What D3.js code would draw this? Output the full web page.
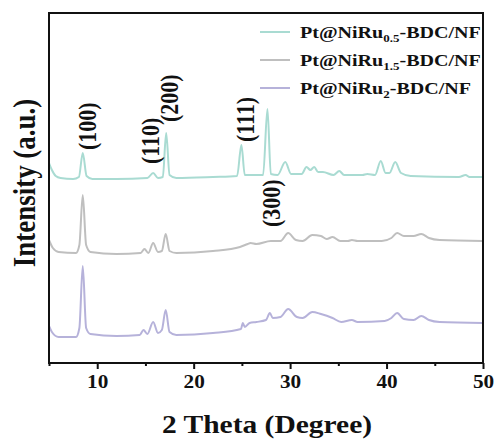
<!DOCTYPE html>
<html>
<head>
<meta charset="utf-8">
<script src="https://cdn.jsdelivr.net/npm/d3@7"></script>
<style>
  body { margin: 0; background: #fff; }
  text { font-family: "Liberation Serif", "DejaVu Serif", serif; font-weight: bold; fill: #111; }
</style>
</head>
<body>
<svg id="canvas" width="496" height="441"></svg>
<script>
// 2 theta positions and intensities (a.u., offset already applied)
let thetaTop = [5.0, 5.3, 5.7, 6.2, 7.5, 8.1, 8.5, 8.9, 9.5, 12, 15.2, 15.8, 16.3, 16.8, 17.15, 17.5, 18.2, 22, 24.5, 24.95, 25.3, 27.2, 27.65, 28.0, 28.7, 29.5, 30.1, 31.2, 31.7, 32.1, 32.5, 32.9, 33.4, 34.5, 35.1, 35.6, 37.5, 38.0, 38.8, 39.4, 39.9, 40.3, 40.9, 41.5, 42.5, 47.5, 48.2, 48.6, 50]
let intTop = [2000, 1930, 1870, 1850, 1840, 1860, 2100, 1870, 1840, 1840, 1850, 1900, 1850, 1860, 2300, 1880, 1850, 1860, 1870, 2180, 1880, 1880, 2540, 1890, 1880, 2010, 1890, 1890, 1960, 1930, 1960, 1910, 1910, 1880, 1920, 1880, 1880, 1890, 1880, 2020, 1900, 1900, 2010, 1900, 1870, 1860, 1880, 1860, 1860]

let thetaMid = [5.0, 5.4, 6.0, 7.8, 8.15, 8.5, 8.85, 9.3, 12, 14.5, 14.9, 15.3, 15.8, 16.3, 16.7, 17.1, 17.5, 18.2, 22, 24.8, 25.6, 25.9, 26.5, 28.0, 29.0, 29.8, 30.6, 31.3, 32.3, 33.2, 33.8, 34.4, 35.2, 36.0, 36.4, 37.0, 39.5, 40.5, 41.1, 41.8, 42.8, 43.6, 44.4, 45.5, 50]
let intMid = [1230, 1150, 1110, 1100, 1180, 1680, 1180, 1110, 1090, 1100, 1140, 1100, 1200, 1110, 1120, 1290, 1120, 1100, 1120, 1160, 1190, 1200, 1190, 1220, 1220, 1300, 1230, 1220, 1280, 1270, 1240, 1260, 1220, 1220, 1230, 1220, 1220, 1250, 1300, 1270, 1270, 1290, 1250, 1230, 1220]

let thetaBot = [5.0, 5.3, 6.0, 7.8, 8.15, 8.5, 8.85, 9.3, 12, 14.4, 14.8, 15.2, 15.8, 16.3, 16.7, 17.1, 17.5, 18.2, 22, 24.9, 25.1, 25.3, 25.8, 26.5, 27.5, 27.9, 28.2, 29.0, 29.8, 30.7, 31.3, 32.3, 33.2, 34.4, 35.3, 36.4, 37.0, 39.8, 40.5, 41.1, 41.8, 42.8, 43.6, 44.4, 45.5, 50]
let intBot = [370, 310, 260, 260, 350, 970, 350, 290, 270, 280, 330, 290, 410, 300, 330, 530, 310, 280, 300, 340, 400, 360, 400, 410, 430, 500, 450, 460, 540, 460, 450, 510, 490, 450, 410, 430, 410, 420, 450, 500, 440, 430, 470, 430, 410, 400]

let seriesNames = ['0.5', '1.5', '2']
let seriesColors = ['#a9dbd2', '#bfbfbf', '#b6b2da']

let peakLabels = ['(100)', '(110)', '(200)', '(111)', '(300)']
let peakTheta = [9.04, 15.58, 17.55, 25.43, 28.12]
let peakLevel = [2130, 1990, 2410, 2210, 1360]

let xTicks = [10, 20, 30, 40, 50]
let xMinor = [5, 15, 25, 35, 45]

let canvas = d3.select('#canvas')

let margin = { left: 49, right: 13, top: 13, bottom: 78 }
let width = 496 - margin.left - margin.right
let height = 441 - margin.top - margin.bottom

let xScale = d3.scaleLinear().domain([5, 50]).range([margin.left, margin.left + width])
let yScale = d3.scaleLinear().domain([0, 3500]).range([margin.top + height, margin.top])

// the source figure is a bit wider than tall, so text gets a slight horizontal stretch
let stretch = 1.18

let series = [
    { theta: thetaTop, val: intTop },
    { theta: thetaMid, val: intMid },
    { theta: thetaBot, val: intBot }
]

let line = d3.line()
    .x((d) => xScale(d[0]))
    .y((d) => yScale(d[1]))
    .curve(d3.curveMonotoneX)

series.forEach((s, i) => {
    let pts = s.theta.map((t, j) => [t, s.val[j]])
    canvas.append('path')
        .datum(pts)
        .attr('d', line)
        .attr('fill', 'none')
        .attr('stroke', seriesColors[i])
        .attr('stroke-width', 2)
        .attr('stroke-linejoin', 'round')
})

// frame
canvas.append('rect')
    .attr('x', margin.left)
    .attr('y', margin.top)
    .attr('width', width)
    .attr('height', height)
    .attr('fill', 'none')
    .attr('stroke', '#111')
    .attr('stroke-width', 2)

// x axis
let xAxis = d3.axisBottom(xScale).tickValues(xTicks).tickSize(6).tickPadding(6)
let gx = canvas.append('g')
    .attr('transform', 'translate(0,' + (margin.top + height) + ')')
    .call(xAxis)
gx.select('.domain').remove()
gx.selectAll('line').attr('stroke', '#111').attr('stroke-width', 2)
gx.selectAll('text')
    .style('font-family', '"Liberation Serif", serif')
    .style('font-weight', 'bold')
    .style('font-size', '18px')
    .attr('fill', '#111')
    .attr('transform', 'scale(' + stretch + ',1)')

let xAxisMinor = d3.axisBottom(xScale).tickValues(xMinor).tickSize(3).tickFormat('')
let gm = canvas.append('g')
    .attr('transform', 'translate(0,' + (margin.top + height) + ')')
    .call(xAxisMinor)
gm.select('.domain').remove()
gm.selectAll('line').attr('stroke', '#111').attr('stroke-width', 2)

// axis titles
canvas.append('text')
    .attr('transform', 'translate(267,433) scale(' + stretch + ',1)')
    .attr('text-anchor', 'middle')
    .style('font-size', '25px')
    .text('2 Theta (Degree)')

canvas.append('text')
    .attr('transform', 'translate(35,183) scale(' + stretch + ',1) rotate(-90)')
    .attr('text-anchor', 'middle')
    .style('font-size', '27px')
    .text('Intensity (a.u.)')

// peak labels
peakLabels.forEach((lab, i) => {
    canvas.append('text')
        .attr('transform', 'translate(' + (xScale(peakTheta[i]) + 8) + ',' + yScale(peakLevel[i]) + ') scale(' + stretch + ',1) rotate(-90)')
        .attr('text-anchor', 'start')
        .style('font-size', '22px')
        .text(lab)
})

// legend
seriesNames.forEach((name, i) => {
    let y = 32 + i * 28
    canvas.append('line')
        .attr('x1', 260).attr('x2', 290)
        .attr('y1', y).attr('y2', y)
        .attr('stroke', seriesColors[i])
        .attr('stroke-width', 2)
    let t = canvas.append('text')
        .attr('transform', 'translate(300,' + (y + 6) + ') scale(' + stretch + ',1)')
        .style('font-size', '17px')
    t.append('tspan').text('Pt@NiRu')
    t.append('tspan').attr('dy', 4).style('font-size', '11px').text(name)
    t.append('tspan').attr('dy', -4).text('-BDC/NF')
})
</script>
</body>
</html>
